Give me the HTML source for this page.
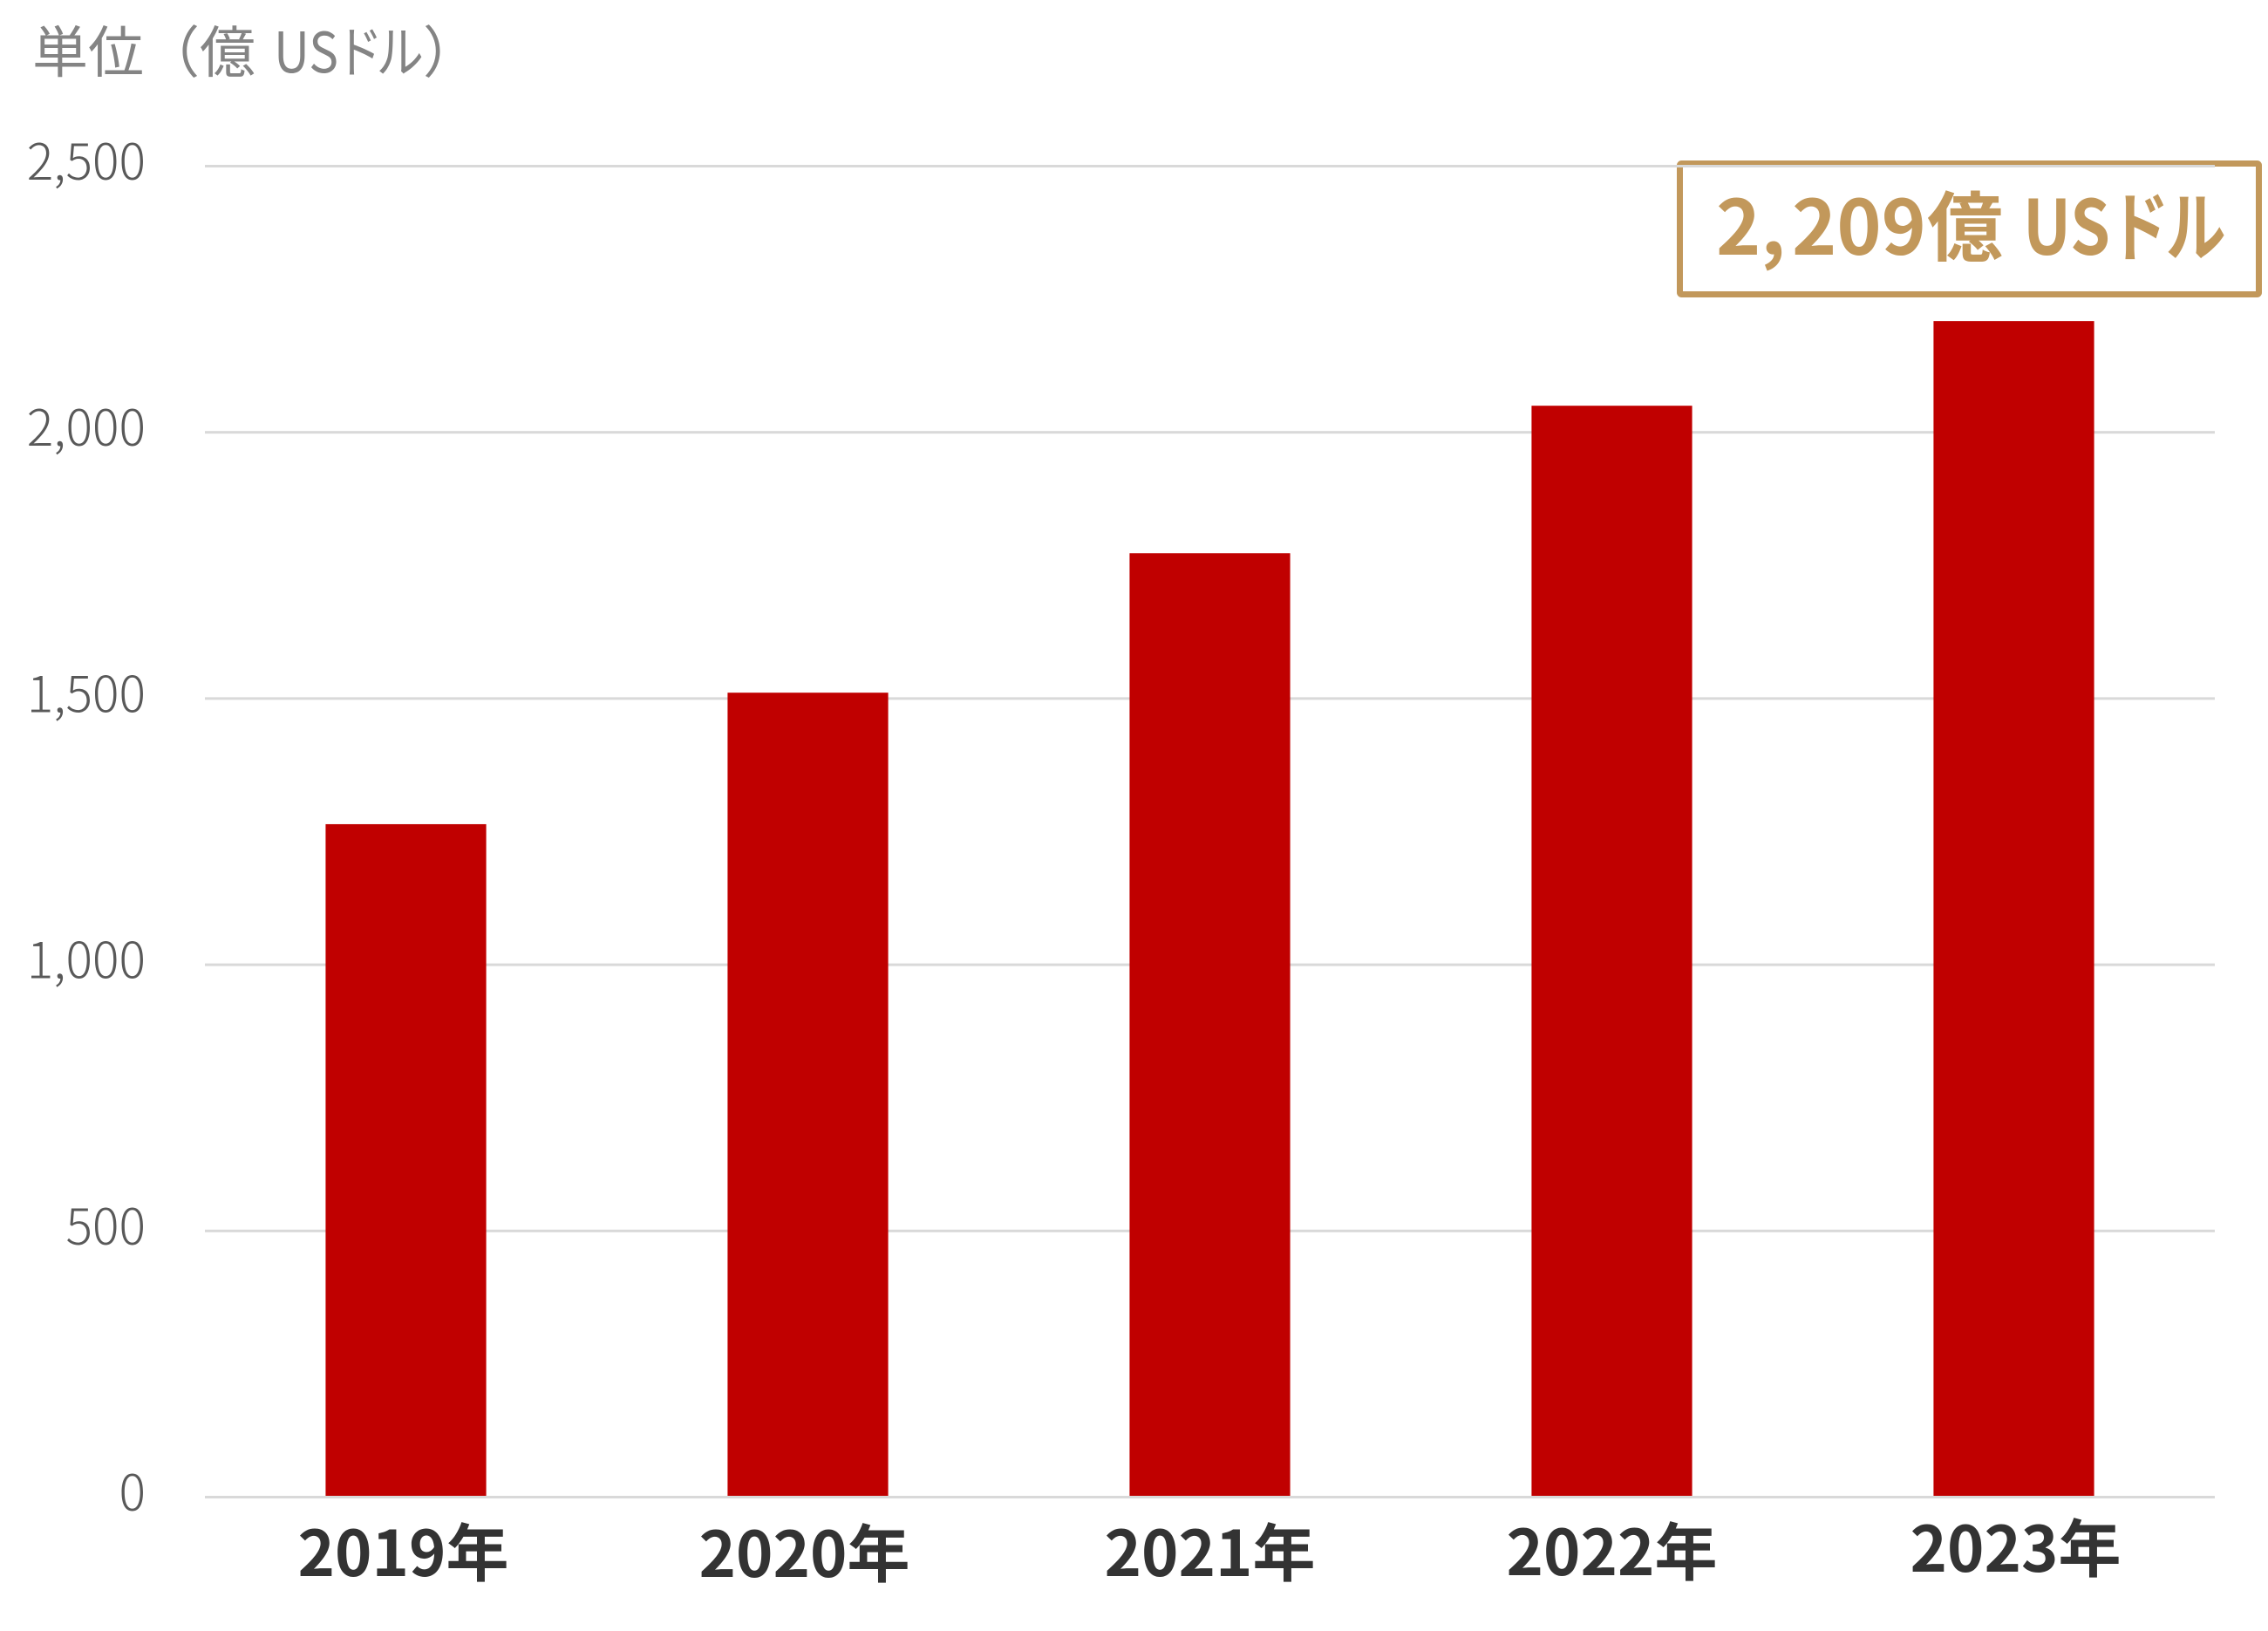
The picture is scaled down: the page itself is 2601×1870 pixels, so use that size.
<!DOCTYPE html>
<html lang="ja">
<head>
<meta charset="utf-8">
<title>単位（億 USドル）</title>
<style>
  html, body { margin: 0; padding: 0; background: #ffffff; }
  body { width: 2601px; height: 1870px; overflow: hidden; }
  svg { display: block; font-family: "Noto Sans CJK JP", "Liberation Sans", sans-serif; }
  .palt { font-feature-settings: "palt" 1; }
</style>
</head>
<body>
<svg id="chart" xmlns="http://www.w3.org/2000/svg" width="2601" height="1870" viewBox="0 0 2601 1870">
  <rect x="0" y="0" width="2601" height="1870" fill="#ffffff"/>
  <text x="37" y="83" font-size="64" font-weight="400" fill="#848484">単位（億 <tspan x="314" textLength="74" lengthAdjust="spacingAndGlyphs">US</tspan><tspan class="palt" x="391" textLength="94" lengthAdjust="spacingAndGlyphs">ドル</tspan><tspan x="485">）</tspan></text>
  <rect x="1926.5" y="187.5" width="664" height="150" rx="2" fill="#ffffff" stroke="#c2985b" stroke-width="7" stroke-linejoin="round"/>
  <text y="292" font-size="87" font-weight="700" fill="#c2985b"><tspan x="1968">2,</tspan><tspan x="2055">209</tspan><tspan x="2210">億 </tspan><tspan x="2320" textLength="100" lengthAdjust="spacingAndGlyphs">US</tspan><tspan class="palt" x="2424" textLength="128" lengthAdjust="spacingAndGlyphs">ドル</tspan></text>
  <g id="grid"></g>
  <g id="yticks"></g>
  <g id="bars"></g>
  <g id="axis"></g>
  <g id="xlabels"></g>
</svg>
<script>
const categories = ["2019年", "2020年", "2021年", "2022年", "2023年"];
const seriesValues = [1264, 1511, 1773, 2050, 2209];
const tickValues = [0, 500, 1000, 1500, 2000, 2500];
const tickLabels = ["0", "500", "1,000", "1,500", "2,000", "2,500"];

const layout = {
  left: 235, right: 2540, zeroY: 1716.5, pxPerUnit: 0.6104,
  barShare: 0.3995,
  labelBaseline: 1807,
  labelNudgeX: [-3, -4, 0, 0, 2],
  labelNudgeY: [0, 1, 0, -1, -5]
};
const NS = "http://www.w3.org/2000/svg";
function yScale(v) { return layout.zeroY - v * layout.pxPerUnit; }
function bandWidth() { return (layout.right - layout.left) / categories.length; }
function xCenter(i) { return layout.left + bandWidth() * (i + 0.5); }
function make(tag, attrs, parent) {
  const el = document.createElementNS(NS, tag);
  for (const k in attrs) el.setAttribute(k, attrs[k]);
  parent.appendChild(el);
  return el;
}
const gridG = document.getElementById("grid");
const ticksG = document.getElementById("yticks");
const barsG = document.getElementById("bars");
const axisG = document.getElementById("axis");
const labelsG = document.getElementById("xlabels");

tickValues.forEach(function (v, i) {
  if (v !== 0) {
    const line = make("rect", { x: layout.left, y: yScale(v) - 1.5, width: layout.right - layout.left, height: 3, fill: "#d9d9d9" }, gridG);
    
    
  }
  const t = make("text", { x: 167, y: yScale(v) + 15.5, "text-anchor": "end", "font-size": 57, "font-weight": 300, fill: "#595959" }, ticksG);
  t.textContent = tickLabels[i];
  
  
});

seriesValues.forEach(function (v, i) {
  const w = bandWidth() * layout.barShare;
  const bar = make("rect", { x: xCenter(i) - w / 2, y: yScale(v), width: w, height: layout.zeroY - yScale(v), fill: "#c00000" }, barsG);
  
  
  const lab = make("text", { x: xCenter(i) + layout.labelNudgeX[i], y: layout.labelBaseline + layout.labelNudgeY[i], "text-anchor": "middle", "font-size": 72, "font-weight": 700, fill: "#333333" }, labelsG);
  lab.textContent = categories[i];
  
  
});

const baseLine = make("rect", { x: layout.left, y: yScale(0) - 1.5, width: layout.right - layout.left, height: 3, fill: "#d9d9d9" }, axisG);


</script>
</body>
</html>
